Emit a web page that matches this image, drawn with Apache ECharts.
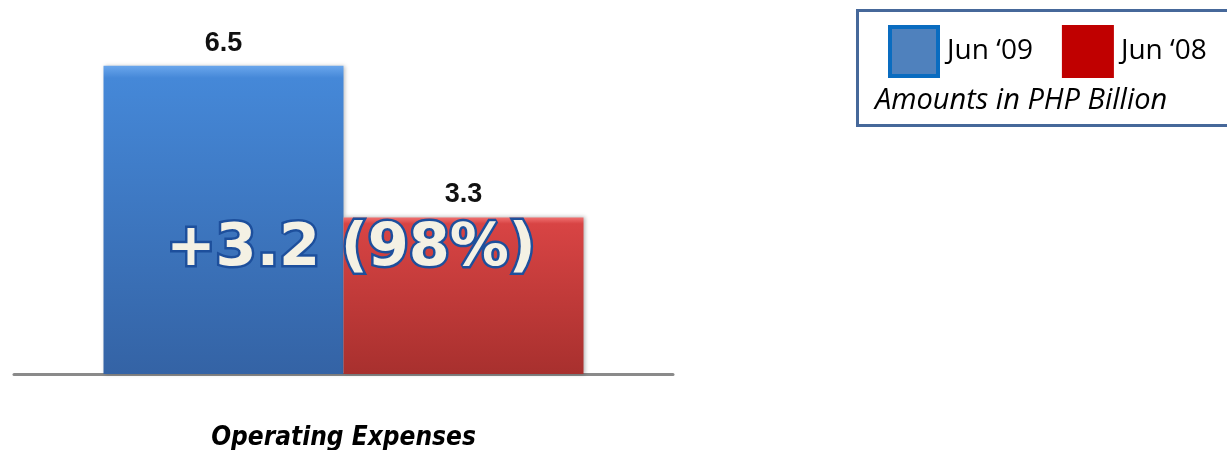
<!DOCTYPE html>
<html>
<head>
<meta charset="utf-8">
<script src="https://cdn.jsdelivr.net/npm/echarts@6/dist/echarts.min.js"></script>
<style>
  html, body { margin: 0; padding: 0; background: #ffffff; }
  #chart { width: 1227px; height: 450px; }
</style>
</head>
<body>
<div id="chart"></div>
<script>
// Operating expenses, amounts in PHP billion
const categories = ['Operating Expenses'];
const seriesNames = ['Jun \u201809', 'Jun \u201808'];
const jun09 = [6.5];
const jun08 = [3.3];
const changeText = '+3.2 (98%)';
const unitNote = 'Amounts in PHP Billion';

const chart = echarts.init(document.getElementById('chart'), null, { renderer: 'canvas' });

function barGradient(top, mid, bottom) {
  return new echarts.graphic.LinearGradient(0, 0, 0, 1, [
    { offset: 0, color: top },
    { offset: 0.04, color: mid },
    { offset: 1, color: bottom }
  ]);
}

const labelStyle = {
  show: true,
  position: 'top',
  distance: 9,
  fontFamily: 'Liberation Sans',
  fontWeight: 'bold',
  fontSize: 27,
  color: '#111111'
};

chart.setOption({
  animation: false,
  grid: { left: 14, right: 554, top: 42, bottom: 76, outerBoundsMode: 'none', containLabel: false },
  xAxis: {
    type: 'category',
    data: categories,
    axisLine: { lineStyle: { color: '#8a8a8a', width: 3 } },
    axisTick: { show: false },
    axisLabel: {
      margin: 51,
      fontFamily: 'DejaVu Sans Condensed',
      fontStyle: 'italic',
      fontWeight: 'bold',
      fontSize: 26,
      color: '#000000'
    }
  },
  yAxis: {
    type: 'value',
    min: 0,
    max: 7,
    show: false,
    splitLine: { show: false }
  },
  legend: {
    left: 888,
    top: 25,
    padding: 0,
    itemWidth: 48,
    itemHeight: 49,
    itemGap: 29,
    icon: 'rect',
    textStyle: {
      fontFamily: 'Open Sans',
      fontSize: 28,
      color: '#000000',
      padding: [0, 0, 0, 4]
    },
    data: [
      { name: seriesNames[0], itemStyle: { color: '#4f81bd', borderColor: '#0a6cc0', borderWidth: 4 } },
      { name: seriesNames[1], itemStyle: { color: '#c00000', borderColor: '#c00000', borderWidth: 4 } }
    ]
  },
  series: [
    {
      name: seriesNames[0],
      type: 'bar',
      data: jun09,
      barWidth: 240,
      barGap: '0%',
      itemStyle: {
        color: barGradient('#6aa6ec', '#4588d8', '#3463a5'),
        shadowColor: 'rgba(0,0,0,0.25)',
        shadowBlur: 4,
        shadowOffsetX: 1
      },
      label: labelStyle
    },
    {
      name: seriesNames[1],
      type: 'bar',
      data: jun08,
      barWidth: 240,
      barGap: '0%',
      itemStyle: {
        color: barGradient('#f07070', '#d84444', '#a8302e'),
        shadowColor: 'rgba(0,0,0,0.3)',
        shadowBlur: 4,
        shadowOffsetX: 1
      },
      label: labelStyle
    }
  ],
  graphic: [
    {
      type: 'rect',
      left: 855,
      top: 8,
      shape: { width: 385, height: 115 },
      style: { fill: 'none', stroke: '#46689a', lineWidth: 3 },
      z: 10
    },
    {
      type: 'text',
      left: 875,
      top: 86,
      style: {
        text: unitNote,
        fontFamily: 'Open Sans',
        fontStyle: 'italic',
        fontSize: 29,
        fill: '#000000'
      },
      z: 10
    },
    {
      type: 'text',
      x: 351,
      y: 250,
      style: {
        text: changeText,
        align: 'center',
        verticalAlign: 'middle',
        fontFamily: 'DejaVu Sans',
        fontWeight: 'bold',
        fontSize: 59,
        fill: '#f4f1e4',
        stroke: '#1d4f9c',
        lineWidth: 5
      },
      z: 20
    }
  ]
});
</script>
</body>
</html>
